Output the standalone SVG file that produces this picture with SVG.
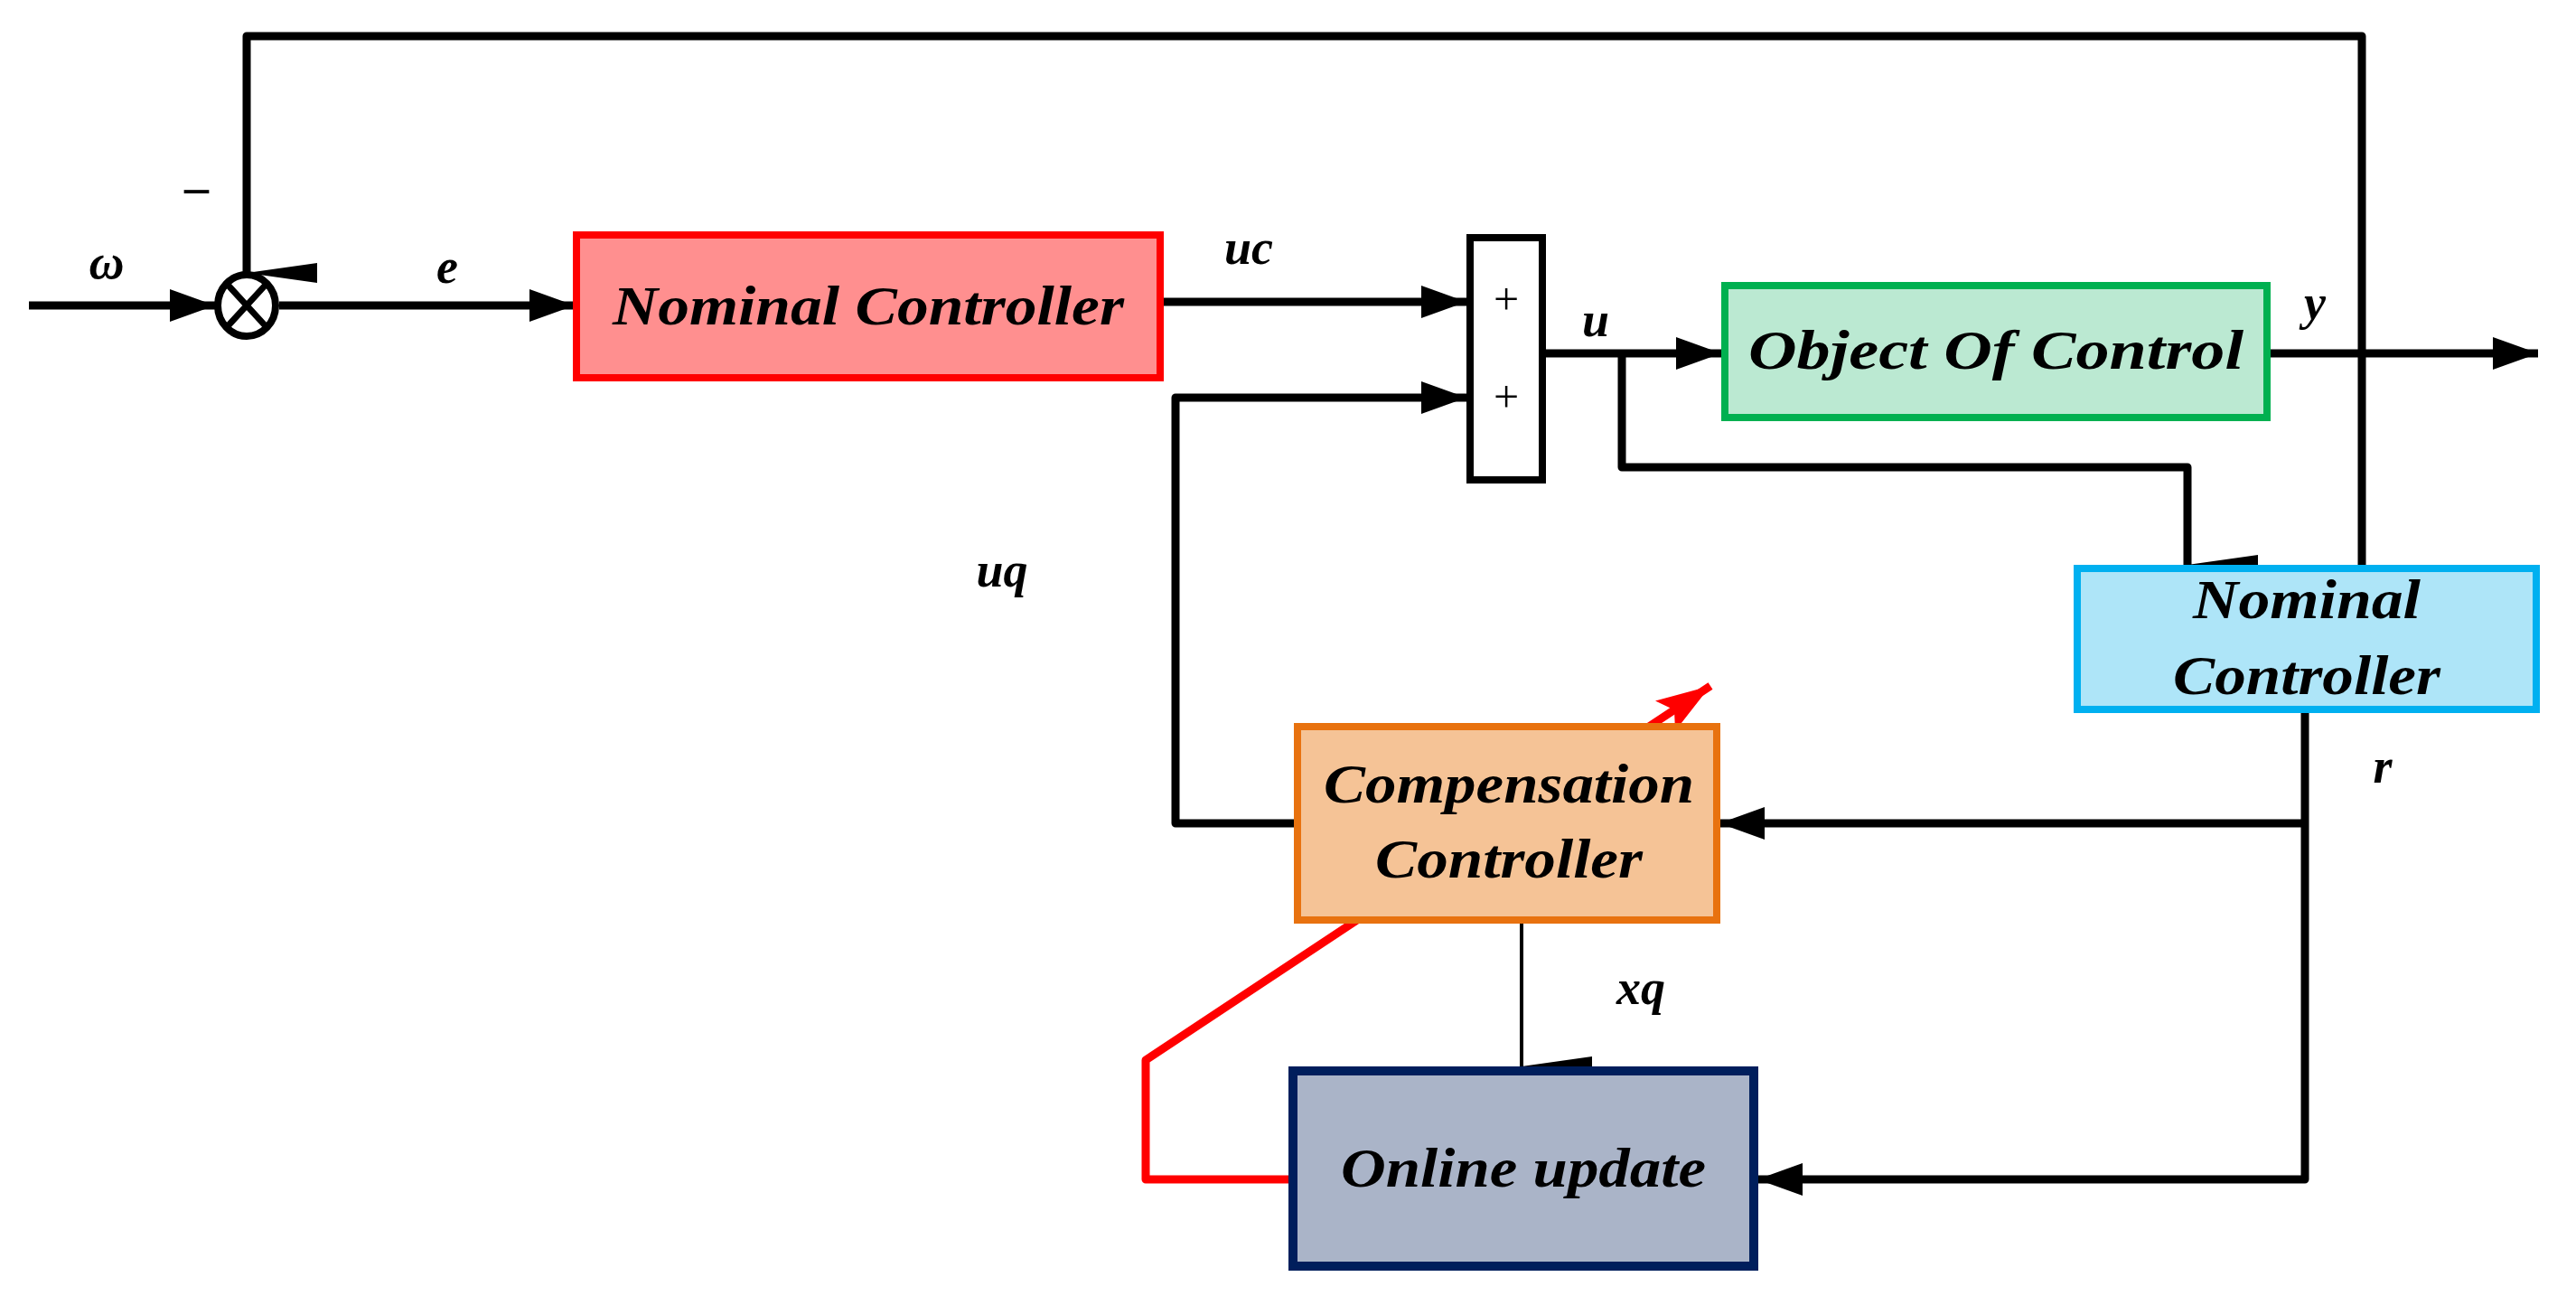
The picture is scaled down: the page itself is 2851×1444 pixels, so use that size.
<svg xmlns="http://www.w3.org/2000/svg" width="2851" height="1444" viewBox="0 0 2851 1444">
<defs>
<marker id="ah" markerWidth="10" markerHeight="8" refX="10" refY="4" orient="auto" markerUnits="userSpaceOnUse" viewBox="0 0 10 8"><path d="M0,0 L10,4 L0,8 Z" fill="#000"/></marker>
<marker id="big" viewBox="0 0 50 36" refX="50" refY="18" markerWidth="50" markerHeight="36" orient="auto" markerUnits="userSpaceOnUse"><path d="M0,0 L50,18 L0,36 Z" fill="#000"/></marker>
<marker id="tall" viewBox="0 0 22 78" refX="11" refY="78" markerWidth="22" markerHeight="78" orient="auto-start-reverse" markerUnits="userSpaceOnUse"><path d="M0,0 L22,0 L11,78 Z" fill="#000"/></marker>
<marker id="red" viewBox="0 0 60 40" refX="60" refY="20" markerWidth="60" markerHeight="40" orient="auto" markerUnits="userSpaceOnUse"><path d="M0,0 L60,20 L0,40 L12,20 Z" fill="#ff0000"/></marker>
</defs>
<style>
.t{font-family:"Liberation Serif",serif;font-weight:bold;font-style:italic;fill:#000}
.lbl{font-size:54px}
.box{font-size:62px}
.w{stroke:#000;stroke-width:9;fill:none;stroke-linejoin:round}
</style>
<rect width="2851" height="1444" fill="#fff"/>
<g id="connectors">
<path class="w" d="M32,338 H238" marker-end="url(#big)"/>
<path class="w" d="M309,338 H636" marker-end="url(#big)"/>
<path class="w" d="M2614,625 V40 H273 V302" marker-end="url(#tall)"/>
<path class="w" d="M1286,334 H1623" marker-end="url(#big)"/>
<path class="w" d="M1432,911 H1301 V440 H1623" marker-end="url(#big)"/>
<path class="w" d="M1710,391 H1905" marker-end="url(#big)"/>
<path class="w" d="M2513,391 H2809" marker-end="url(#big)"/>
<path class="w" d="M1795,391 V517 H2421 V625" marker-end="url(#tall)"/>
<path class="w" d="M2551,788 V1305 H1945" marker-end="url(#big)"/>
<path class="w" d="M2551,911 H1903" marker-end="url(#big)"/>
<path d="M1684,1022 V1180" stroke="#000" stroke-width="4" fill="none" marker-end="url(#tall)"/>
<path d="M1432,1305 H1268 V1173 L1893,759" stroke="#ff0000" stroke-width="9" fill="none" stroke-linejoin="round" marker-end="url(#red)"/>
</g>
<g id="sum">
<ellipse cx="273" cy="338" rx="32" ry="34" fill="#fff" stroke="#000" stroke-width="8"/>
<path d="M251,314 L295,362 M295,314 L251,362" stroke="#000" stroke-width="7"/>
</g>
<g id="nominal1">
<rect x="638" y="260" width="646" height="158" fill="#ff8f8f" stroke="#ff0000" stroke-width="8"/>
<text class="t box" x="961" y="359" text-anchor="middle" textLength="566" lengthAdjust="spacingAndGlyphs">Nominal Controller</text>
</g>
<g id="adder">
<rect x="1627" y="263" width="80" height="268" fill="#fff" stroke="#000" stroke-width="8"/>
<text x="1667" y="348" font-family="Liberation Serif,serif" font-size="50" text-anchor="middle">+</text>
<text x="1667" y="456" font-family="Liberation Serif,serif" font-size="50" text-anchor="middle">+</text>
</g>
<g id="object">
<rect x="1909" y="316" width="600" height="146" fill="#bbe9d2" stroke="#00b050" stroke-width="8"/>
<text class="t box" x="2209" y="408" text-anchor="middle" textLength="548" lengthAdjust="spacingAndGlyphs">Object  Of  Control</text>
</g>
<g id="nominal2">
<rect x="2299" y="629" width="508" height="156" fill="#aee5f8" stroke="#00b0f0" stroke-width="8"/>
<text class="t box" x="2553" y="684" text-anchor="middle" textLength="252" lengthAdjust="spacingAndGlyphs">Nominal</text>
<text class="t box" x="2553" y="768" text-anchor="middle" textLength="296" lengthAdjust="spacingAndGlyphs">Controller</text>
</g>
<g id="compensation">
<rect x="1436" y="804" width="464" height="214" fill="#f5c396" stroke="#e8720f" stroke-width="8"/>
<text class="t box" x="1670" y="888" text-anchor="middle" textLength="410" lengthAdjust="spacingAndGlyphs">Compensation</text>
<text class="t box" x="1670" y="971" text-anchor="middle" textLength="296" lengthAdjust="spacingAndGlyphs">Controller</text>
</g>
<g id="online">
<rect x="1431" y="1185" width="510" height="216" fill="#aab4c8" stroke="#001e5c" stroke-width="10"/>
<text class="t box" x="1686" y="1313" text-anchor="middle" textLength="404" lengthAdjust="spacingAndGlyphs">Online update</text>
</g>
<g id="labels">
<text class="t lbl" x="118" y="308" text-anchor="middle">ω</text>
<text class="t lbl" x="218" y="225" text-anchor="middle">–</text>
<text class="t lbl" x="495" y="313" text-anchor="middle">e</text>
<text class="t lbl" x="1382" y="292" text-anchor="middle">uc</text>
<text class="t lbl" x="1766" y="372" text-anchor="middle">u</text>
<text class="t lbl" x="2562" y="353" text-anchor="middle">y</text>
<text class="t lbl" x="1109" y="649" text-anchor="middle">uq</text>
<text class="t lbl" x="2637" y="866" text-anchor="middle">r</text>
<text class="t lbl" x="1816" y="1111" text-anchor="middle">xq</text>
</g>
</svg>
